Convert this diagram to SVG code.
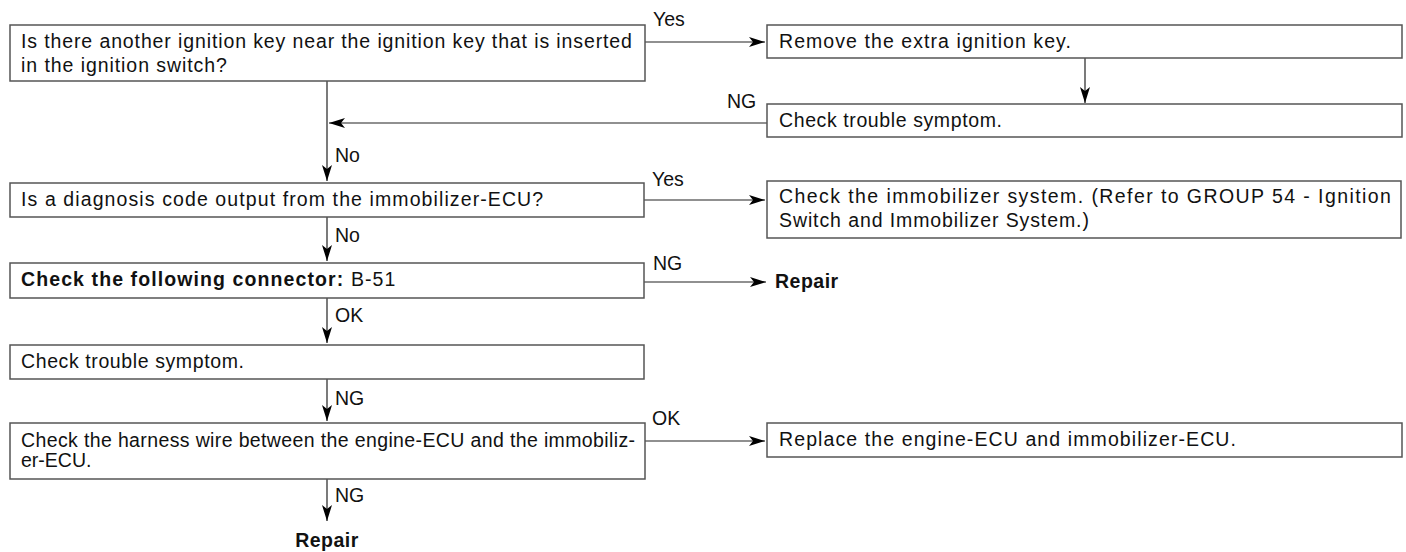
<svg xmlns="http://www.w3.org/2000/svg" width="1406" height="552" viewBox="0 0 1406 552">
<defs>
<style>
.box{fill:#fff;stroke:#555;stroke-width:1.5}
.t{font-family:"Liberation Sans",Arial,sans-serif;font-size:19.5px;fill:#111;letter-spacing:1.1px}
.n{letter-spacing:0}
.b{font-weight:bold}
.c{fill:none;stroke:#222;stroke-width:1.2}
</style>
<marker id="ah" markerUnits="userSpaceOnUse" markerWidth="20" markerHeight="12" viewBox="-17 -6 18 12" refX="0" refY="0" orient="auto">
<path d="M0,0 L-16,-5 L-12,0 L-16,5 Z" fill="#000"/>
</marker>
</defs>
<rect width="1406" height="552" fill="#fff"/>
<g id="connectors">
<line class="c" x1="645" y1="42" x2="765" y2="42" marker-end="url(#ah)"/>
<line class="c" x1="1085" y1="58" x2="1085" y2="103" marker-end="url(#ah)"/>
<line class="c" x1="767" y1="123" x2="329" y2="123" marker-end="url(#ah)"/>
<line class="c" x1="327" y1="81" x2="327" y2="181" marker-end="url(#ah)"/>
<line class="c" x1="644" y1="200" x2="765" y2="200" marker-end="url(#ah)"/>
<line class="c" x1="327" y1="217" x2="327" y2="261" marker-end="url(#ah)"/>
<line class="c" x1="644" y1="282" x2="766" y2="282" marker-end="url(#ah)"/>
<line class="c" x1="327" y1="298" x2="327" y2="343" marker-end="url(#ah)"/>
<line class="c" x1="327" y1="379" x2="327" y2="421" marker-end="url(#ah)"/>
<line class="c" x1="645" y1="441" x2="765" y2="441" marker-end="url(#ah)"/>
<line class="c" x1="327" y1="479" x2="327" y2="521" marker-end="url(#ah)"/>
<text class="t n" x="653" y="26">Yes</text>
<text class="t n" x="727" y="108">NG</text>
<text class="t n" x="335" y="162">No</text>
<text class="t n" x="652" y="186">Yes</text>
<text class="t n" x="335" y="242">No</text>
<text class="t n" x="653" y="270">NG</text>
<text class="t n" x="335" y="322">OK</text>
<text class="t n" x="335" y="405">NG</text>
<text class="t n" x="652" y="425">OK</text>
<text class="t n" x="335" y="502">NG</text>
</g>
<g id="n1">
<rect class="box" x="10" y="25" width="635" height="56"/>
<text class="t" x="21" y="48" textLength="612" lengthAdjust="spacing">Is there another ignition key near the ignition key that is inserted</text>
<text class="t" x="21" y="72" textLength="207" lengthAdjust="spacing">in the ignition switch?</text>
</g>
<g id="n2">
<rect class="box" x="767" y="25" width="635" height="33"/>
<text class="t" x="779" y="48" textLength="293" lengthAdjust="spacing">Remove the extra ignition key.</text>
</g>
<g id="n3">
<rect class="box" x="767" y="104" width="635" height="33"/>
<text class="t" x="779" y="127" textLength="224" lengthAdjust="spacing">Check trouble symptom.</text>
</g>
<g id="n4">
<rect class="box" x="10" y="183" width="634" height="34"/>
<text class="t" x="21" y="206">Is a diagnosis code output from the immobilizer-ECU?</text>
</g>
<g id="n5">
<rect class="box" x="767" y="181" width="634" height="57"/>
<text class="t" x="779" y="203" textLength="613" lengthAdjust="spacing">Check the immobilizer system. (Refer to GROUP 54 - Ignition</text>
<text class="t" x="779" y="227" textLength="311" lengthAdjust="spacing">Switch and Immobilizer System.)</text>
</g>
<g id="n6">
<rect class="box" x="10" y="263" width="634" height="35"/>
<text class="t" x="21" y="286"><tspan class="b">Check the following connector:</tspan> B-51</text>
</g>
<g id="n7">
<text class="t b" x="775" y="288" style="letter-spacing:0.5px">Repair</text>
</g>
<g id="n8">
<rect class="box" x="10" y="345" width="634" height="34"/>
<text class="t" x="21" y="368" textLength="224" lengthAdjust="spacing">Check trouble symptom.</text>
</g>
<g id="n9">
<rect class="box" x="10" y="423" width="635" height="56"/>
<text class="t n" x="21" y="447" textLength="614" lengthAdjust="spacing">Check the harness wire between the engine-ECU and the immobiliz-</text>
<text class="t n" x="21" y="467">er-ECU.</text>
</g>
<g id="n10">
<rect class="box" x="767" y="423" width="635" height="34"/>
<text class="t" x="779" y="446">Replace the engine-ECU and immobilizer-ECU.</text>
</g>
<g id="n11">
<text class="t b" x="327" y="547" text-anchor="middle" style="letter-spacing:0.5px">Repair</text>
</g>
</svg>
